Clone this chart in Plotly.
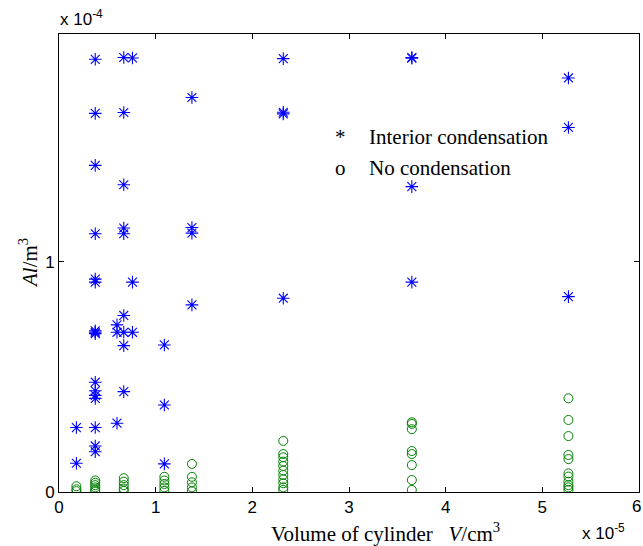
import plotly.graph_objects as go

# Volume of cylinder (x 1e-5 cm^3) and A_l (x 1e-4 m^3)
cond_x = ([0.18] * 2 + [0.375] * 16 + [0.60] * 3 + [0.67] * 9 + [0.76] * 3 +
          [1.09] * 3 + [1.375] * 4 + [2.32] * 4 + [3.65] * 4 + [5.27] * 3)
cond_y = ([0.28, 0.125] +
          [1.88, 1.645, 1.419, 1.122, 0.925, 0.912, 0.70, 0.694, 0.688, 0.477, 0.44, 0.42, 0.407, 0.28, 0.2, 0.175] +
          [0.726, 0.694, 0.299] +
          [1.888, 1.649, 1.335, 1.147, 1.122, 0.767, 0.694, 0.636, 0.436] +
          [1.886, 0.912, 0.694] +
          [0.639, 0.378, 0.122] +
          [1.714, 1.149, 1.125, 0.813] +
          [1.883, 1.65, 1.643, 0.842] +
          [1.888, 1.885, 1.327, 0.912] +
          [1.799, 1.584, 0.849])

nocond_x = ([0.18] * 3 + [0.375] * 6 + [0.67] * 5 + [1.09] * 5 + [1.375] * 5 +
            [2.32] * 11 + [3.65] * 8 + [5.27] * 11)
nocond_y = ([0.025, 0.012, 0.004] +
            [0.05, 0.04, 0.03, 0.02, 0.01, 0.003] +
            [0.06, 0.045, 0.03, 0.015, 0.005] +
            [0.066, 0.05, 0.035, 0.02, 0.005] +
            [0.122, 0.066, 0.042, 0.02, 0.003] +
            [0.222, 0.165, 0.151, 0.132, 0.113, 0.093, 0.074, 0.055, 0.038, 0.02, 0.009] +
            [0.303, 0.296, 0.273, 0.178, 0.165, 0.117, 0.052, 0.009] +
            [0.407, 0.313, 0.243, 0.161, 0.143, 0.081, 0.067, 0.045, 0.03, 0.02, 0.009])

x_ticks = [0, 1, 2, 3, 4, 5, 6]
y_ticks = [0, 1]

fig = go.Figure()
fig.add_trace(go.Scatter(
    x=cond_x, y=cond_y, mode="markers", name="Interior condensation",
    marker=dict(symbol="asterisk-open", size=10.5, color="rgb(0,0,255)",
                line=dict(color="rgb(0,0,255)", width=1.1)),
))
fig.add_trace(go.Scatter(
    x=nocond_x, y=nocond_y, mode="markers", name="No condensation",
    marker=dict(symbol="circle-open", size=9, color="rgb(0,128,0)",
                line=dict(color="rgb(0,128,0)", width=1)),
))

axis_common = dict(
    showgrid=False, zeroline=False, showline=True, linecolor="black", linewidth=1,
    ticks="inside", ticklen=5, tickcolor="black", mirror="ticks",
    tickfont=dict(family="Liberation Sans, Arial", size=17, color="black"),
)

L, R, T, B = 59, 639, 34, 492
W, H = 643, 546

# last x tick label is drawn as an annotation so it stays inside the page
x_ticktext = [str(v) for v in x_ticks[:-1]] + [""]

fig.update_layout(
    width=W, height=H,
    margin=dict(l=L, r=W - R, t=T, b=H - B),
    paper_bgcolor="white", plot_bgcolor="white",
    showlegend=False,
    xaxis=dict(range=[0, 6], tickvals=x_ticks, ticktext=x_ticktext, **axis_common),
    yaxis=dict(range=[0, 1.99], tickvals=y_ticks, ticktext=[str(v) for v in y_ticks], **axis_common),
)

serif = dict(family="Liberation Serif, Times New Roman", size=21, color="black")
sans = dict(family="Liberation Sans, Arial", size=17, color="black")


def px(xp):
    return (xp - L) / (R - L)


def py(yp):
    return (B - yp) / (B - T)


fig.update_layout(annotations=[
    # last x tick label
    dict(xref="paper", yref="paper", x=px(642), y=py(507),
         xanchor="right", yanchor="middle", showarrow=False, borderpad=0,
         text=str(x_ticks[-1]), font=sans),
    # x label
    dict(xref="paper", yref="paper", x=px(385), y=py(532),
         xanchor="center", yanchor="middle", showarrow=False,
         text="Volume of cylinder&nbsp;&nbsp;&nbsp;<i>V</i>/cm<sup>3</sup>", font=serif),
    # y label
    dict(xref="paper", yref="paper", x=px(28), y=0.5,
         xanchor="center", yanchor="middle", showarrow=False, textangle=-90,
         text="<i>Al</i>/m<sup>3</sup>", font=serif),
    # multipliers
    dict(xref="paper", yref="paper", x=px(58), y=py(18),
         xanchor="left", yanchor="middle", showarrow=False,
         text="x 10<sup>-4</sup>", font=sans),
    dict(xref="paper", yref="paper", x=px(627), y=py(532),
         xanchor="right", yanchor="middle", showarrow=False,
         text="x 10<sup>-5</sup>", font=sans),
    # text legend
    dict(xref="paper", yref="paper", x=px(340), y=py(137),
         xanchor="center", yanchor="middle", showarrow=False, text="*", font=serif),
    dict(xref="paper", yref="paper", x=px(367), y=py(137),
         xanchor="left", yanchor="middle", showarrow=False,
         text="Interior condensation", font=serif),
    dict(xref="paper", yref="paper", x=px(340), y=py(168),
         xanchor="center", yanchor="middle", showarrow=False, text="o", font=serif),
    dict(xref="paper", yref="paper", x=px(367), y=py(168),
         xanchor="left", yanchor="middle", showarrow=False,
         text="No condensation", font=serif),
])

fig.write_html(
    "out.html", config={"displayModeBar": False},
    post_script=("document.body.style.margin='0';"
                 "document.body.style.overflow='hidden';"),
)
